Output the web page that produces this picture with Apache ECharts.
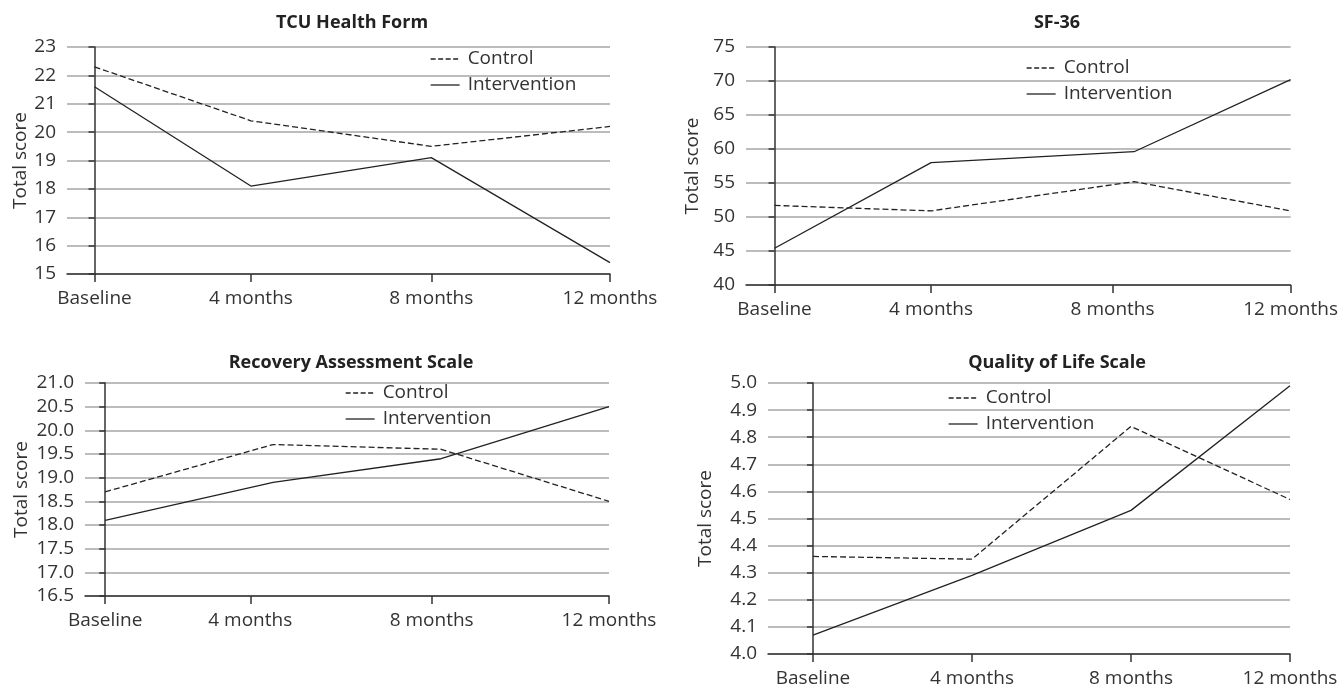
<!DOCTYPE html>
<html>
<head>
<meta charset="utf-8">
<script src="https://cdn.jsdelivr.net/npm/echarts@6/dist/echarts.min.js"></script>
<style>
  html, body { margin: 0; padding: 0; background: #fff; }
  #chart { width: 1341px; height: 688px; }
</style>
</head>
<body>
<div id="chart"></div>
<script>
const categories = ['Baseline', '4 months', '8 months', '12 months'];

// TCU Health Form
const tcuTicks = [0, 0.91, 1.96, 3];
const tcuPointX = [0, 0.91, 1.96, 3];
const tcuControl = [22.3, 20.4, 19.5, 20.2];
const tcuIntervention = [21.6, 18.1, 19.1, 15.4];

// SF-36
const sfTicks = [0, 0.91, 1.965, 3];
const sfPointX = [0, 0.91, 2.09, 3];
const sfControl = [51.7, 50.9, 55.2, 50.9];
const sfIntervention = [45.4, 58.0, 59.6, 70.2];

// Recovery Assessment Scale
const rasTicks = [0, 0.864, 1.944, 3];
const rasPointX = [0, 1, 2, 3];
const rasControl = [18.7, 19.7, 19.6, 18.5];
const rasIntervention = [18.1, 18.9, 19.4, 20.5];

// Quality of Life Scale
const qolTicks = [0, 1, 2, 3];
const qolPointX = [0, 1, 2, 3];
const qolControl = [4.36, 4.35, 4.84, 4.57];
const qolIntervention = [4.07, 4.29, 4.53, 4.99];

const FONT = '"Open Sans", "DejaVu Sans", sans-serif';
const TEXT = '#333';

const panels = [
  { title: 'TCU Health Form', ticks: tcuTicks, px: tcuPointX, control: tcuControl, intervention: tcuIntervention,
    grid: { left: 67, top: 47, width: 543, height: 227 }, xmin: -0.16,
    y: { min: 15, max: 23, interval: 1, dec: 0 }, nameGap: 36,
    titlePos: [347, 9], legendPos: [430, 49] },
  { title: 'SF-36', ticks: sfTicks, px: sfPointX, control: sfControl, intervention: sfIntervention,
    grid: { left: 746, top: 47, width: 545, height: 238 }, xmin: -0.166,
    y: { min: 40, max: 75, interval: 5, dec: 0 }, nameGap: 44,
    titlePos: [1052, 9], legendPos: [1026, 58] },
  { title: 'Recovery Assessment Scale', ticks: rasTicks, px: rasPointX, control: rasControl, intervention: rasIntervention,
    grid: { left: 85, top: 383, width: 524, height: 213 }, xmin: -0.12,
    y: { min: 16.5, max: 21, interval: 0.5, dec: 1 }, nameGap: 54,
    titlePos: [346, 349], legendPos: [345, 383] },
  { title: 'Quality of Life Scale', ticks: qolTicks, px: qolPointX, control: qolControl, intervention: qolIntervention,
    grid: { left: 768, top: 383, width: 522, height: 273 }, xmin: -0.283,
    y: { min: 4.0, max: 5.0, interval: 0.1, dec: 1 }, nameGap: 53,
    titlePos: [1052, 349], legendPos: [948, 388] }
];

function nearestCat(ticks, v) {
  let best = 0;
  ticks.forEach((t, i) => { if (Math.abs(t - v) < Math.abs(ticks[best] - v)) best = i; });
  return categories[best];
}

const option = {
  animation: false,
  backgroundColor: '#fff',
  title: [], legend: [], grid: [], xAxis: [], yAxis: [], series: []
};

panels.forEach((p, i) => {
  option.title.push({
    text: p.title, left: p.titlePos[0], top: p.titlePos[1], textAlign: 'center',
    textStyle: { fontFamily: FONT, fontSize: 18, fontWeight: 'bold', color: '#222' }
  });
  option.legend.push({
    orient: 'vertical', left: p.legendPos[0], top: p.legendPos[1], padding: 0,
    itemWidth: 29, itemHeight: 12, itemGap: 6,
    itemStyle: { opacity: 0 },
    data: [
      { name: 'Control', lineStyle: { type: [5, 2.5], width: 1.3 } },
      { name: 'Intervention', lineStyle: { width: 1.3 } }
    ],
    textStyle: { fontFamily: FONT, fontSize: 19, color: TEXT, lineHeight: 20, padding: [0, 0, 0, 3] }
  });
  option.grid.push(Object.assign({ containLabel: false }, p.grid));
  option.xAxis.push({
    type: 'value', gridIndex: i, min: p.xmin, max: 3,
    axisLine: { show: true, lineStyle: { color: '#333', width: 1.5 } },
    axisTick: { show: true, customValues: p.ticks, length: 8, lineStyle: { color: '#333', width: 1.5 } },
    axisLabel: {
      customValues: p.ticks, margin: 15,
      fontFamily: FONT, fontSize: 19, color: TEXT,
      formatter: v => nearestCat(p.ticks, v)
    },
    splitLine: { show: false }
  });
  option.yAxis.push({
    type: 'value', gridIndex: i, min: p.y.min, max: p.y.max, interval: p.y.interval,
    name: 'Total score', nameLocation: 'middle', nameRotate: 90, nameGap: p.nameGap,
    nameTextStyle: { fontFamily: FONT, fontSize: 19, color: TEXT },
    axisLine: { show: true, lineStyle: { color: '#333', width: 1.5 } },
    axisTick: { show: true, length: 6, lineStyle: { color: '#333', width: 1.5 } },
    axisLabel: {
      margin: 11, fontFamily: FONT, fontSize: 19, color: TEXT,
      formatter: v => v.toFixed(p.y.dec)
    },
    splitLine: { show: true, lineStyle: { color: '#a6a6a6', width: 1.5 } }
  });
  option.series.push({
    name: 'Control', type: 'line', xAxisIndex: i, yAxisIndex: i,
    data: p.px.map((x, k) => [x, p.control[k]]),
    symbol: 'none', lineStyle: { color: '#222', width: 1.3, type: [6, 3] },
    itemStyle: { color: '#222' }
  });
  option.series.push({
    name: 'Intervention', type: 'line', xAxisIndex: i, yAxisIndex: i,
    data: p.px.map((x, k) => [x, p.intervention[k]]),
    symbol: 'none', lineStyle: { color: '#222', width: 1.3, type: 'solid' },
    itemStyle: { color: '#222' }
  });
});

const chart = echarts.init(document.getElementById('chart'), null, { renderer: 'canvas' });
chart.setOption(option);
</script>
</body>
</html>
